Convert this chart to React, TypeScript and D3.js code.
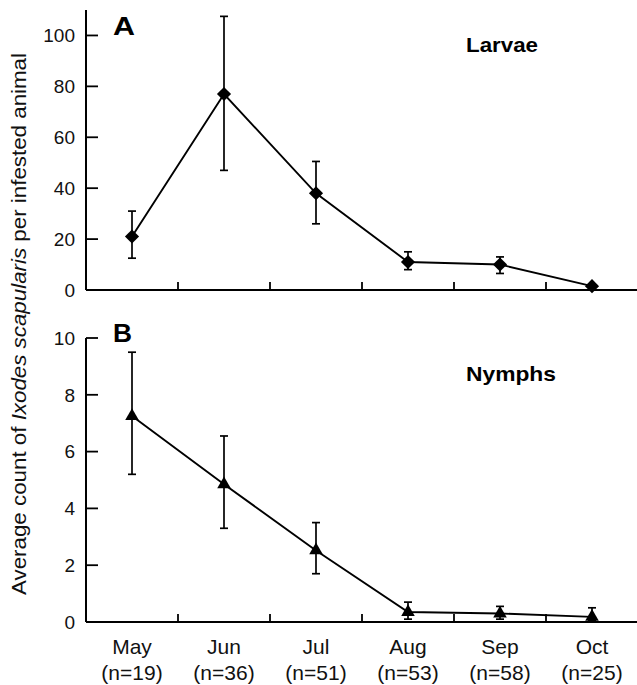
import React from 'react';
import * as d3 from 'd3';

const months = ['May', 'Jun', 'Jul', 'Aug', 'Sep', 'Oct'];
const sampleSizes = ['(n=19)', '(n=36)', '(n=51)', '(n=53)', '(n=58)', '(n=25)'];

const larvaeMean = [21, 77, 38, 11, 10, 1.5];
const larvaeLow = [12.5, 47, 26, 8, 6.5, 1.2];
const larvaeHigh = [31, 107.5, 50.5, 15, 13, 1.8];

const nymphMean = [7.25, 4.85, 2.52, 0.35, 0.3, 0.18];
const nymphLow = [5.2, 3.3, 1.7, 0.1, 0.1, 0.05];
const nymphHigh = [9.5, 6.55, 3.5, 0.7, 0.55, 0.5];

const larvaeTicks = [0, 20, 40, 60, 80, 100];
const nymphTicks = [0, 2, 4, 6, 8, 10];

const W = 637, H = 685;
const font = 'Liberation Sans, Arial, Helvetica, sans-serif';

const x = d3.scaleBand<string>().domain(months).range([86, 638]);

function Panel({ y, mean, low, high, ticks, letter, title, marker }: any) {
  const pts = months.map((m, i) => ({ m, v: mean[i], lo: low[i], hi: high[i] }));
  const line = d3.line<any>()
    .x(d => x(d.m)! + x.bandwidth() / 2)
    .y(d => y(d.v));
  // diamonds are drawn as squares turned by 45 degrees
  const sym = marker === 'diamond'
    ? d3.symbol().type(d3.symbolSquare).size(100)()
    : d3.symbol().type(d3.symbolTriangle).size(80)();
  const rot = marker === 'diamond' ? ' rotate(45)' : '';
  const [y0, y1] = y.range();
  const x0 = x.range()[0];
  return (
    <g>
      <line x1={x0} x2={x0} y1={y1} y2={y0} stroke="#000" strokeWidth={2} />
      <line x1={x0} x2={W + 2} y1={y0} y2={y0} stroke="#000" strokeWidth={2} />
      {ticks.map((t: number) => (
        <g key={t}>
          <line x1={x0} x2={x0 + 12} y1={y(t)} y2={y(t)} stroke="#000" strokeWidth={1.8} />
          <text x={x0 - 11} y={y(t)} dy="0.36em" textAnchor="end" fontSize={19} fontFamily={font} fill="#111">{t}</text>
        </g>
      ))}
      {months.slice(1).map(m => (
        <line key={m} x1={x(m)} x2={x(m)} y1={y0} y2={y0 - 8} stroke="#000" strokeWidth={1.8} />
      ))}
      {pts.map(p => {
        const cx = x(p.m)! + x.bandwidth() / 2;
        return (
          <g key={p.m} stroke="#000" strokeWidth={1.7}>
            <line x1={cx} x2={cx} y1={y(p.lo)} y2={y(p.hi)} />
            <line x1={cx - 4} x2={cx + 4} y1={y(p.lo)} y2={y(p.lo)} />
            <line x1={cx - 4} x2={cx + 4} y1={y(p.hi)} y2={y(p.hi)} />
          </g>
        );
      })}
      <path d={line(pts) || ''} fill="none" stroke="#000" strokeWidth={1.9} />
      {pts.map(p => (
        <path key={p.m} d={sym || ''} transform={`translate(${x(p.m)! + x.bandwidth() / 2},${y(p.v)})${rot}`} fill="#000" />
      ))}
      <text x={113} y={letter.y} fontSize={25} fontWeight="bold" fontFamily={font} fill="#000"
        textLength={letter.w} lengthAdjust="spacingAndGlyphs">{letter.text}</text>
      <text x={466} y={title.y} fontSize={21} fontWeight="bold" fontFamily={font} fill="#000"
        textLength={title.w} lengthAdjust="spacingAndGlyphs">{title.text}</text>
    </g>
  );
}

export default function App() {
  const yA = d3.scaleLinear().domain([0, 110]).range([290, 10]);
  const yB = d3.scaleLinear().domain([0, 10]).range([622, 338]);
  return (
    <svg width={W} height={H} style={{ position: 'absolute', left: 0, top: 0, background: '#fff' }}>
      <rect width={W} height={H} fill="#fff" />
      <Panel y={yA} mean={larvaeMean} low={larvaeLow} high={larvaeHigh} ticks={larvaeTicks}
        letter={{ text: 'A', y: 35, w: 22 }} title={{ text: 'Larvae', y: 52, w: 72 }} marker="diamond" />
      <Panel y={yB} mean={nymphMean} low={nymphLow} high={nymphHigh} ticks={nymphTicks}
        letter={{ text: 'B', y: 342, w: 19 }} title={{ text: 'Nymphs', y: 381, w: 90 }} marker="triangle" />
      {months.map((m, i) => {
        const cx = x(m)! + x.bandwidth() / 2;
        return (
          <g key={m} fontFamily={font} fontSize={21} fill="#111" textAnchor="middle">
            <text x={cx} y={654}>{m}</text>
            <text x={cx} y={680}>{sampleSizes[i]}</text>
          </g>
        );
      })}
      <text transform="translate(26,324) rotate(-90)" textAnchor="middle" fontSize={20} fontFamily={font} fill="#111"
        textLength={542} lengthAdjust="spacingAndGlyphs">
        Average count of <tspan fontStyle="italic">Ixodes scapularis</tspan> per infested animal
      </text>
    </svg>
  );
}
